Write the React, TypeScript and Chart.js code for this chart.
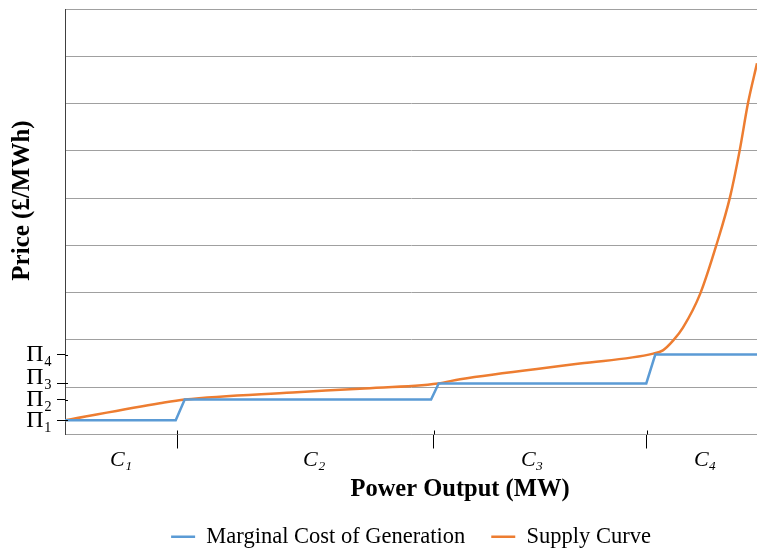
import React, { useEffect, useRef } from "react";
import { Chart, registerables } from "chart.js";

Chart.register(...registerables);

// ---- data ----
const PI_LEVELS = [0.3, 0.74, 1.08, 1.69];
const PI_LABELS = ["Π₁", "Π₂", "Π₃", "Π₄"];
const GRID_LEVELS = [0, 1, 2, 3, 4, 5, 6, 7, 8, 9];

const CAPACITY_BOUNDS = [16.2, 53.3, 84.1];
const CAPACITY_LABEL_POS = [8.1, 36.0, 67.5, 92.5];
const CAPACITY_LABELS = ["C₁", "C₂", "C₃", "C₄"];

const MC_X = [0, 16.0, 17.3, 52.9, 54.0, 84.0, 85.3, 100];
const MC_Y = [0.3, 0.3, 0.74, 0.74, 1.08, 1.08, 1.69, 1.69];

const SUPPLY_X = [0, 13.7, 17.3, 32.9, 42.6, 53.9, 57.1, 74.4, 85.0, 86.4, 87.9, 89.3, 91.8, 94.2, 96.1, 97.5, 98.7, 100];
const SUPPLY_Y = [0.3, 0.66, 0.74, 0.89, 0.97, 1.08, 1.17, 1.5, 1.71, 1.78, 1.99, 2.26, 2.98, 4.04, 5.02, 6.01, 7.01, 7.85];

const SERIES_LABELS = ["Marginal Cost of Generation", "Supply Curve"];
const X_TITLE = "Power Output (MW)";
const Y_TITLE = "Price (£/MWh)";

// ---- style ----
const SERIF = "'Liberation Serif', 'Times New Roman', serif";
const BLUE = "#5B9BD5";
const ORANGE = "#ED7D31";
const GRID = "#A0A0A0";
const AXIS_DARK = "#404040";

// small inward parts of the axis tick marks (they cross the axis line)
const crossTicks = {
  id: "crossTicks",
  afterDraw(chart: any) {
    const { ctx, chartArea } = chart;
    const x = chart.scales.x;
    const y = chart.scales.y;
    ctx.save();
    ctx.strokeStyle = "#000";
    ctx.lineWidth = 1;
    ctx.beginPath();
    PI_LEVELS.forEach((v) => {
      const py = Math.round(y.getPixelForValue(v)) + 0.5;
      ctx.moveTo(chartArea.left, py);
      ctx.lineTo(chartArea.left + 3, py);
    });
    CAPACITY_BOUNDS.forEach((v) => {
      const px = Math.round(x.getPixelForValue(v)) + 0.5;
      ctx.moveTo(px, chartArea.bottom - 4);
      ctx.lineTo(px, chartArea.bottom);
    });
    ctx.stroke();
    ctx.restore();
  },
};

export default function App() {
  const ref = useRef<HTMLCanvasElement | null>(null);

  useEffect(() => {
    document.body.style.margin = "0";
    const canvas = ref.current;
    if (!canvas) return;

    const chart = new Chart(canvas, {
      type: "line",
      data: {
        datasets: [
          {
            label: SERIES_LABELS[0],
            data: MC_X.map((x, i) => ({ x, y: MC_Y[i] })),
            borderColor: BLUE,
            backgroundColor: BLUE,
            borderWidth: 2.5,
            pointRadius: 0,
            tension: 0,
          },
          {
            label: SERIES_LABELS[1],
            data: SUPPLY_X.map((x, i) => ({ x, y: SUPPLY_Y[i] })),
            borderColor: ORANGE,
            backgroundColor: ORANGE,
            borderWidth: 2.5,
            pointRadius: 0,
            cubicInterpolationMode: "monotone",
          },
        ],
      },
      options: {
        animation: false,
        responsive: false,
        layout: { padding: { top: 9, right: 0, left: 0, bottom: -6 } },
        plugins: {
          legend: {
            position: "bottom",
            fullSize: false,
            labels: {
              boxWidth: 24,
              boxHeight: 0,
              padding: 26,
              color: "#000",
              font: { family: SERIF, size: 22.5 },
            },
          },
          tooltip: { enabled: false },
        },
        scales: {
          x: {
            type: "linear",
            min: 0,
            max: 100,
            afterBuildTicks: (s: any) => {
              s.ticks = [...CAPACITY_BOUNDS, ...CAPACITY_LABEL_POS]
                .sort((a, b) => a - b)
                .map((v) => ({ value: v }));
            },
            afterFit: (s: any) => {
              s.height = 65;
              s.paddingLeft = 0;
              s.paddingRight = 0;
            },
            grid: {
              drawOnChartArea: false,
              tickLength: 14,
              tickWidth: 1,
              tickColor: (ctx: any) =>
                ctx.tick && CAPACITY_BOUNDS.includes(ctx.tick.value) ? "#000" : "rgba(0,0,0,0)",
            },
            border: { color: GRID, width: 1 },
            ticks: {
              autoSkip: false,
              maxRotation: 0,
              padding: -1,
              color: "#000",
              font: { family: SERIF, size: 22, style: "italic" },
              callback: (v: any) => {
                const i = CAPACITY_LABEL_POS.indexOf(Number(v));
                return i >= 0 ? CAPACITY_LABELS[i] : "";
              },
            },
            title: {
              display: true,
              text: "\u2003\u2003\u2003\u2003" + X_TITLE,
              color: "#000",
              font: { family: SERIF, size: 24.5, weight: "bold" },
              padding: { top: 0, bottom: -5 },
            },
          },
          y: {
            type: "linear",
            min: 0,
            max: 9,
            afterBuildTicks: (s: any) => {
              s.ticks = [...GRID_LEVELS, ...PI_LEVELS]
                .sort((a, b) => a - b)
                .map((v) => ({ value: v }));
            },
            afterFit: (s: any) => {
              s.width = 65;
              s.paddingTop = 0;
              s.paddingBottom = 0;
            },
            grid: {
              color: (ctx: any) =>
                ctx.tick && GRID_LEVELS.includes(ctx.tick.value) ? GRID : "rgba(0,0,0,0)",
              tickColor: (ctx: any) =>
                ctx.tick && PI_LEVELS.includes(ctx.tick.value) ? "#000" : "rgba(0,0,0,0)",
              tickLength: 8,
              lineWidth: 1,
            },
            border: { color: AXIS_DARK, width: 1 },
            ticks: {
              autoSkip: false,
              padding: 5,
              color: "#000",
              // Π₃ sits just above its tick (it would collide with Π₂ otherwise)
              font: (ctx: any) =>
                ctx.tick && ctx.tick.value === PI_LEVELS[2]
                  ? { family: SERIF, size: 24, lineHeight: 0.5 }
                  : { family: SERIF, size: 24 },
              callback: (v: any) => {
                const i = PI_LEVELS.indexOf(Number(v));
                if (i < 0) return "";
                return i === 2 ? [PI_LABELS[i], ""] : PI_LABELS[i];
              },
            },
            title: {
              display: true,
              text: "\u2003\u2002\u2009" + Y_TITLE,
              color: "#000",
              font: { family: SERIF, size: 25, weight: "bold" },
              padding: { top: 8, bottom: 0 },
            },
          },
        },
      },
      plugins: [crossTicks],
    });

    return () => chart.destroy();
  }, []);

  return (
    <div style={{ width: 757, height: 552 }}>
      <canvas ref={ref} width={757} height={552} style={{ display: "block" }} />
    </div>
  );
}
